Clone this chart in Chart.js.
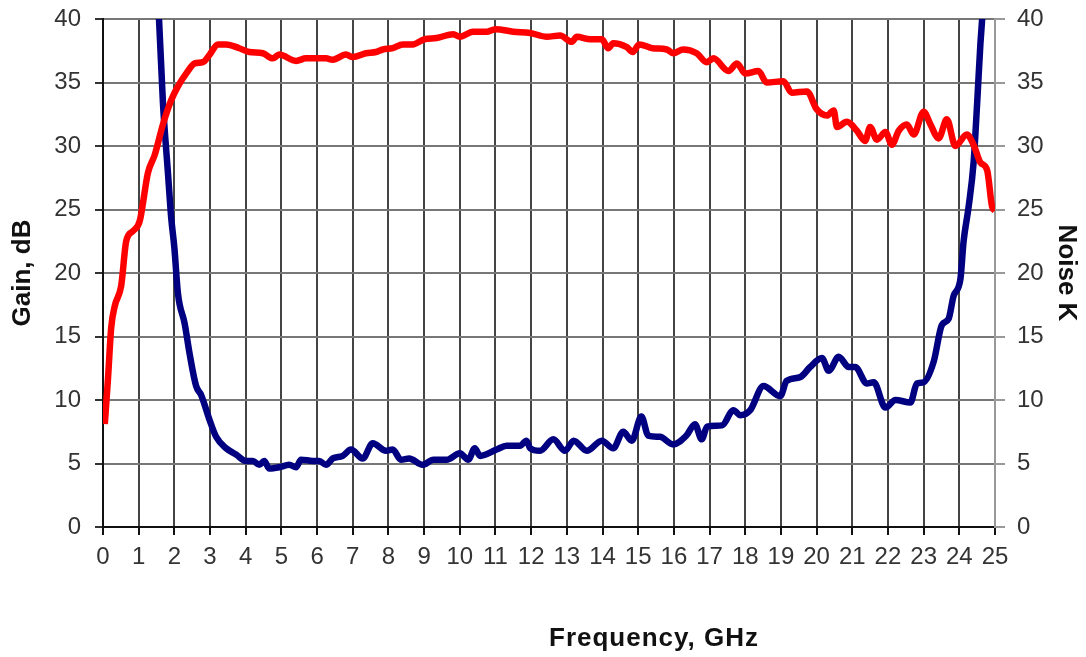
<!DOCTYPE html>
<html>
<head>
<meta charset="utf-8">
<script src="https://cdn.jsdelivr.net/npm/chart.js@4/dist/chart.umd.min.js"></script>
<style>
  html, body { margin: 0; padding: 0; background: #fff; }
  #wrap { position: relative; width: 1086px; height: 657px; }
  #xTitle {
    position: absolute; left: 549px; top: 622px; width: 200px;
    text-align: center; white-space: nowrap; letter-spacing: 1px;
    font: bold 26px "Liberation Sans", Arial, sans-serif; color: #111;
  }
</style>
</head>
<body>
<div id="wrap">
  <canvas id="chart" width="1086" height="657"></canvas>
  <div id="xTitle">Frequency, GHz</div>
</div>
<script>
// gain curve (left axis)
const gainFreq = [0.05, 0.14, 0.23, 0.33, 0.51, 0.65, 0.84, 1.03, 1.26, 1.45, 1.68, 1.91, 2.1, 2.33, 2.57, 2.8, 2.99, 3.22, 3.45, 3.82, 4.1, 4.48, 4.76, 4.94, 5.41, 5.69, 6.25, 6.44, 6.81, 7.0, 7.37, 7.65, 7.84, 8.12, 8.4, 8.68, 9.0,
  9.35, 9.82, 10.0, 10.37, 10.75, 11.0, 11.5, 11.97, 12.44, 12.81, 13.14, 13.28, 13.66, 13.98, 14.16, 14.3, 14.67, 14.85, 15.03, 15.4, 15.8, 15.98, 16.26, 16.64, 16.92, 17.11,
  17.53, 17.77, 18.0, 18.37, 18.6, 19.07, 19.3, 19.73, 20.0, 20.29, 20.48, 20.57, 20.85, 21.13, 21.36, 21.5, 21.69, 21.93, 22.11, 22.3, 22.53, 22.72, 23.0, 23.19, 23.42, 23.65, 23.89, 24.21, 24.4, 24.59, 24.78, 24.92, 25.0];
const gainDb = [8.1, 11.7, 15.7, 17.4, 19.0, 22.5, 23.3, 24.1, 27.9, 29.3, 31.7, 33.6, 34.7, 35.7, 36.5, 36.6, 37.2, 38.0, 38.0, 37.7, 37.4, 37.3, 36.9, 37.2, 36.7, 36.9, 36.9, 36.8, 37.2, 37.0, 37.3, 37.4, 37.6, 37.7, 38.0, 38.0, 38.4,
  38.5, 38.8, 38.6, 39.0, 39.0, 39.2, 39.0, 38.9, 38.6, 38.7, 38.2, 38.6, 38.4, 38.4, 37.7, 38.1, 37.8, 37.4, 38.0, 37.7, 37.6, 37.3, 37.6, 37.3, 36.6, 36.9,
  35.9, 36.5, 35.7, 35.9, 35.0, 35.1, 34.2, 34.3, 32.9, 32.4, 32.8, 31.5, 31.9, 31.2, 30.4, 31.5, 30.5, 31.1, 30.1, 31.2, 31.7, 30.9, 32.7, 31.7, 30.6, 32.1, 30.0, 30.9, 30.1, 28.7, 28.1, 25.2, 24.9];

// noise temperature curve (right axis)
const noiseFreq = [1.5, 1.57, 1.68, 1.82, 1.91, 2.0, 2.1, 2.29, 2.43, 2.61, 2.75, 2.99, 3.17, 3.45, 3.73, 4.01, 4.2, 4.38, 4.52, 4.66, 4.94, 5.22, 5.41, 5.55, 5.88, 6.06, 6.25, 6.44, 6.72, 6.95, 7.28, 7.56, 7.93, 8.12, 8.35, 8.58, 8.96,
  9.26, 9.63, 10.0, 10.24, 10.42, 10.57, 11.03, 11.31, 11.69, 11.87, 11.97, 12.25, 12.62, 12.95, 13.19, 13.56, 13.98, 14.3, 14.58, 14.82, 15.09, 15.28, 15.61, 15.98, 16.35, 16.59, 16.78, 16.93,
  17.35, 17.67, 17.86, 18.14, 18.51, 18.98, 19.16, 19.54, 19.82, 20.15, 20.34, 20.62, 20.9, 21.08, 21.41, 21.6, 21.93, 22.21, 22.63, 22.81, 23.0, 23.28, 23.51, 23.7, 23.84, 24.03, 24.12, 24.26, 24.4, 24.5, 24.59, 24.64, 24.7];
const noiseK = [43, 40.0, 33.4, 27.9, 24.4, 22.0, 18.4, 16.0, 13.6, 11.1, 10.4, 8.4, 7.1, 6.2, 5.7, 5.2, 5.2, 4.9, 5.2, 4.6, 4.7, 4.9, 4.7, 5.3, 5.2, 5.2, 4.9, 5.4, 5.6, 6.1, 5.4, 6.6, 6.0, 6.1, 5.3, 5.4, 4.9,
  5.3, 5.3, 5.8, 5.3, 6.2, 5.6, 6.1, 6.4, 6.4, 6.8, 6.2, 6.0, 6.9, 6.0, 6.8, 6.0, 6.8, 6.2, 7.5, 6.8, 8.7, 7.2, 7.1, 6.5, 7.2, 8.1, 6.9, 7.9,
  8.0, 9.2, 8.8, 9.2, 11.1, 10.3, 11.5, 11.8, 12.6, 13.3, 12.3, 13.4, 12.6, 12.6, 11.3, 11.4, 9.4, 10.0, 9.8, 11.3, 11.4, 13.0, 15.9, 16.4, 18.2, 19.5, 22.5, 25.2, 28.7, 33.4, 38.0, 40.0, 43];

const axisTicks = [0, 5, 10, 15, 20, 25, 30, 35, 40];

const gainPoints = gainFreq.map((f, i) => ({ x: f, y: gainDb[i] }));
const noisePoints = noiseFreq.map((f, i) => ({ x: f, y: noiseK[i] }));

const tickFont = { family: '"Liberation Sans", Arial, sans-serif', size: 24 };
const titleFont = { family: '"Liberation Sans", Arial, sans-serif', size: 26, weight: 'bold' };

new Chart(document.getElementById('chart'), {
    type: 'line',
    data: {
        datasets: [
            {
                label: 'Gain',
                data: gainPoints,
                borderColor: '#ff0000',
                borderWidth: 6.5,
                pointRadius: 0,
                cubicInterpolationMode: 'monotone',
                yAxisID: 'y',
                clip: 0
            },
            {
                label: 'Noise',
                data: noisePoints,
                borderColor: '#000080',
                borderWidth: 6.5,
                pointRadius: 0,
                cubicInterpolationMode: 'monotone',
                yAxisID: 'y1',
                clip: 0
            }
        ]
    },
    options: {
        responsive: false,
        animation: false,
        layout: { padding: { top: 19, left: 0, right: 0, bottom: 0 } },
        plugins: {
            legend: { display: false },
            tooltip: { enabled: false }
        },
        scales: {
            x: {
                type: 'linear',
                min: 0,
                max: 25,
                afterFit: s => { s.height = 130; s.paddingLeft = 0; s.paddingRight = 0; },
                ticks: { stepSize: 1, color: '#333', font: tickFont, padding: 8, maxRotation: 0, autoSkip: false },
                grid: { color: '#444', lineWidth: 2, tickLength: 8, tickColor: '#111' },
                border: { color: '#111', width: 2 }
            },
            y: {
                position: 'left',
                min: 0,
                max: 40,
                afterFit: s => { s.width = 103; s.paddingTop = 0; s.paddingBottom = 0; },
                afterBuildTicks: s => { s.ticks = axisTicks.map(v => ({ value: v })); },
                ticks: { color: '#333', font: tickFont, padding: 14 },
                grid: { color: '#777', lineWidth: 2, tickLength: 8, tickColor: '#333' },
                border: { color: '#111', width: 2 },
                title: { display: true, text: 'Gain, dB', color: '#111', font: titleFont, padding: { top: 7, bottom: 0 } }
            },
            y1: {
                position: 'right',
                min: 0,
                max: 40,
                afterFit: s => { s.width = 91; s.paddingTop = 0; s.paddingBottom = 0; },
                afterBuildTicks: s => { s.ticks = axisTicks.map(v => ({ value: v })); },
                ticks: { color: '#333', font: tickFont, padding: 12 },
                grid: { drawOnChartArea: false, color: '#999', lineWidth: 2, tickLength: 10, tickColor: '#999' },
                border: { color: '#999', width: 2 },
                title: { display: true, text: 'Noise K', color: '#111', font: titleFont, padding: { top: 4, bottom: 0 } }
            }
        }
    }
});
</script>
</body>
</html>
